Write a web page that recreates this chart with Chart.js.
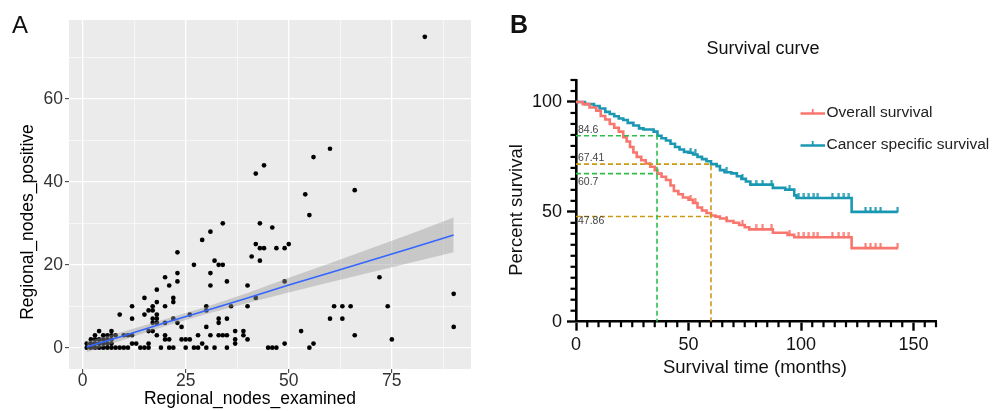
<!DOCTYPE html>
<html><head><meta charset="utf-8">
<script src="https://cdn.jsdelivr.net/npm/chart.js@4.4.1/dist/chart.umd.min.js"></script>
<style>
html,body{margin:0;padding:0;background:#fff;}
#wrap{position:relative;width:998px;height:411px;overflow:hidden;background:#fff;}
#ca{position:absolute;left:0;top:0;}
#cb{position:absolute;left:490px;top:0;}
.lab{position:absolute;font-family:'Liberation Sans',Arial,sans-serif;color:#111;line-height:1;}
</style></head><body>
<div id="wrap">
<canvas id="ca" width="490" height="411"></canvas>
<canvas id="cb" width="508" height="411"></canvas>
<div class="lab" style="left:12px;top:13px;font-size:24px;">A</div>
<div class="lab" style="left:510px;top:12px;font-size:25px;font-weight:600;">B</div>
</div>
<script>
// ---------------- Panel A data ----------------
const examined = [
  1,1,2,2,2,3,3,3,3,4,4,4,4,5,5,5,5,6,6,6,6,7,7,7,7,7,8,8,10,11,12,
  9,10,11,14,15,16,19,21,22,25,27,28,30,32,35,45,46,47,55,
  12,13,16,29,37,49,56,
  20,21,24,25,26,37,40,75,
  18,20,28,31,33,34,35,39,66,
  16,17,37,39,53,
  24,30,90,
  17,18,20,23,33,
  12,17,18,22,33,35,60,63,
  9,15,18,26,
  16,17,30,
  12,17,20,30,36,40,61,63,65,74,
  18,22,
  15,22,42,
  90,
  18,
  21,31,40,
  23,35,49,
  20,72,
  23,31,
  27,33,34,
  32,43,
  41,
  23,
  43,44,47,49,
  42,50,
  29,
  31,
  46,
  34,43,
  55,
  54,
  66,
  42,
  44,
  56,
  60,
  83
];
const positive = [
  0,1,0,1,2,0,1,2,3,0,1,2,4,0,1,2,3,0,1,2,3,0,1,2,3,4,0,3,3,3,3,
  0,0,0,0,0,0,0,0,0,0,0,0,0,0,0,0,0,0,0,
  1,1,1,1,1,1,1,
  2,2,2,2,2,2,2,2,
  3,3,3,3,3,3,3,3,3,
  4,4,4,4,4,
  5,5,5,
  6,6,6,6,6,
  7,7,7,7,7,7,7,7,
  8,8,8,8,
  9,9,9,
  10,10,10,10,10,10,10,10,10,10,
  11,11,
  12,12,12,
  13,
  14,
  15,15,15,
  16,16,16,
  17,17,
  18,18,
  20,20,20,
  21,21,
  22,
  23,
  24,24,24,24,
  25,25,
  26,
  28,
  29,
  30,30,
  32,
  37,
  38,
  42,
  44,
  46,
  48,
  75
];
const fitX     = [1,   10,  20,  30,  40,   50,   60,   70,   80,   90];
const fitY     = [0.2, 2.9, 6.0, 9.0, 12.0, 15.1, 18.1, 21.1, 24.1, 27.2];
const fitLower = [-1.1,1.9, 5.15,8.1, 10.8, 13.3, 15.8, 18.2, 20.6, 23.0];
const fitUpper = [1.5, 3.9, 6.85,9.9, 13.2, 16.9, 20.4, 24.0, 27.6, 31.4];
const xTicksA  = [0,12.5,25,37.5,50,62.5,75,87.5];
const xLabelsA = [0,25,50,75];
const yTicksA  = [0,10,20,30,40,50,60,70];
const yLabelsA = [0,20,40,60];

// ---------------- Panel B data ----------------
const osTime = [0,3,6,9,11,13,15,17,19,21,22.5,24,25.5,27,29,31,33,35,36.2,38,40,42,43.5,45.5,47.5,50,52,54,56,58,60,62,64,67,70,72.5,75,77,87.5,94,97,122.5,143];
const osSurv = [100,99,97.5,96,93.6,92,90,88.3,86.5,84,82,79.5,77,75,73.5,72,70.5,69,67.4,66,64.5,62,59.5,58,56.5,55.5,54,52,50.6,49.5,48.3,47.8,47,45.8,45,44,43,42,40.5,39.5,38.4,33.5,33.5];
const cssTime = [0,4,8,10.5,13,15,17,19,21,23,25.5,28,30,34.5,36.2,38,40,42,44,46,48,50,52,54,56,58,60,62.5,64,66,69,71.5,73.5,75.5,77.5,87.5,93,97,98,122.5,143];
const cssSurv = [100,99,98.2,97,95.5,94.5,93.5,92.5,91.8,90.5,89.3,88,87.5,86.5,84.6,83.5,82.5,81,79.5,78.4,77.3,76.9,76.1,75,74,73,71.7,70.8,69,68,67.5,66.2,65,63.8,62.4,60.9,60.1,57.5,56.3,50,50];
const censorTime = [51,53,67,74,80,83,87,95,99,101.3,103.5,105.7,107.5,113.9,116.8,119.1,121.3,128.7,130.9,133.2,135.4,143];
const osCensor   = [55.5,54,45.8,44,42,42,42,39.5,38.4,38.4,38.4,38.4,38.4,38.4,38.4,38.4,38.4,33.5,33.5,33.5,33.5,33.5];
const cssCensor  = [76.9,76.1,68,65,62.4,62.4,62.4,60.1,56.3,56.3,56.3,56.3,56.3,56.3,56.3,56.3,56.3,50,50,50,50,50];
const milestoneMonths = [36, 60];
const cssAtMilestone  = [84.6, 71.7];
const osAtMilestone   = [67.41, 47.86];
const annotText  = ['84.6','67.41','60.7','47.86'];
const annotValue = [84.6, 71.7, 67.41, 47.86];
const xTicksB = [0,50,100,150];
const yTicksB = [0,50,100];
const seriesNames = ['Overall survival','Cancer specific survival'];

// ---------------- common ----------------
const FAM = "'Liberation Sans', Arial, Helvetica, sans-serif";
Chart.defaults.font.family = FAM;
Chart.defaults.animation = false;

function pts(xs, ys){ return xs.map((x,i)=>({x:x, y:ys[i]})); }

// ---------------- Chart A ----------------
const bgA = {
  id:'bgA',
  beforeDraw(chart){
    const {ctx, chartArea:a} = chart;
    ctx.save(); ctx.fillStyle = '#EBEBEB';
    ctx.fillRect(a.left, a.top, a.right-a.left, a.bottom-a.top);
    ctx.restore();
  },
  afterDraw(chart){
    const ctx = chart.ctx;
    ctx.save();
    ctx.fillStyle = '#000';
    ctx.font = '17.5px ' + FAM;
    ctx.textAlign = 'center'; ctx.textBaseline = 'middle';
    ctx.fillText('Regional_nodes_examined', 250, 399);
    ctx.translate(28, 222); ctx.rotate(-Math.PI/2);
    ctx.fillText('Regional_nodes_positive', 0, 0);
    ctx.restore();
  }
};
const isMajX = v => xLabelsA.includes(v);
const isMajY = v => yLabelsA.includes(v);
new Chart(document.getElementById('ca'), {
  type:'scatter',
  data:{datasets:[
    {data: pts(examined, positive), pointRadius:2.35, pointBackgroundColor:'#000', pointBorderWidth:0, order:4},
    {data: pts(fitX, fitLower), showLine:true, borderWidth:0, pointRadius:0, fill:false, order:3},
    {data: pts(fitX, fitUpper), showLine:true, borderWidth:0, pointRadius:0, fill:'-1', backgroundColor:'rgba(153,153,153,0.42)', order:2},
    {data: pts(fitX, fitY), showLine:true, borderColor:'#3366FF', borderWidth:1.6, pointRadius:0, fill:false, order:1}
  ]},
  options:{
    responsive:false, animation:false, devicePixelRatio:1,
    layout:{padding:{top:20,right:19,left:0,bottom:0}},
    plugins:{legend:{display:false}, tooltip:{enabled:false}},
    scales:{
      x:{type:'linear', min:-3.3, max:94.2,
         afterBuildTicks:s=>{ s.ticks = xTicksA.map(v=>({value:v})); },
         afterFit:s=>{ s.height = 42; },
         ticks:{autoSkip:false, maxRotation:0, padding:-2, color:'#333', font:{size:17.5},
                callback:v=> isMajX(v) ? String(v) : ''},
         grid:{color:'#FFFFFF', lineWidth:c=> (c.tick && isMajX(c.tick.value)) ? 1.3 : 0.6,
               drawTicks:true, tickLength:4, tickWidth:1,
               tickColor:c=> (c.tick && isMajX(c.tick.value)) ? '#333' : 'rgba(0,0,0,0)'},
         border:{display:false}},
      y:{type:'linear', min:-5.14, max:79.06,
         afterBuildTicks:s=>{ s.ticks = yTicksA.map(v=>({value:v})); },
         afterFit:s=>{ s.width = 69; },
         ticks:{autoSkip:false, padding:2, color:'#333', font:{size:17.5},
                callback:v=> isMajY(v) ? String(v) : ''},
         grid:{color:'#FFFFFF', lineWidth:c=> (c.tick && isMajY(c.tick.value)) ? 1.3 : 0.6,
               drawTicks:true, tickLength:4, tickWidth:1,
               tickColor:c=> (c.tick && isMajY(c.tick.value)) ? '#333' : 'rgba(0,0,0,0)'},
         border:{display:false}}
    }
  },
  plugins:[bgA]
});

// ---------------- Chart B ----------------
const OS_COL = '#F8766D', CSS_COL = '#1A97B2', GREEN = '#2DBE4C', ORANGE = '#CC9A12';
function tickImg(color){
  const c = document.createElement('canvas'); c.width = 3; c.height = 10;
  const g = c.getContext('2d'); g.fillStyle = color; g.fillRect(0.5,0,2,5.5);
  return c;
}
const dashStyle = (col)=>({showLine:true, borderColor:col, borderWidth:1.6, borderDash:[5,3], pointRadius:0, fill:false, order:0});
const decoB = {
  id:'decoB',
  afterDraw(chart){
    const {ctx, chartArea:a, scales:{x,y}} = chart;
    ctx.save();
    // minor ticks
    ctx.strokeStyle = '#000'; ctx.lineWidth = 2.2;
    for (let v = 5; v <= 160; v += 5){
      if (xTicksB.includes(v)) continue;
      const px = x.getPixelForValue(v);
      ctx.beginPath(); ctx.moveTo(px, a.bottom); ctx.lineTo(px, a.bottom + 5.5); ctx.stroke();
    }
    for (let v = 5; v <= 110; v += 5){
      if (yTicksB.includes(v)) continue;
      const py = y.getPixelForValue(v);
      ctx.beginPath(); ctx.moveTo(a.left, py); ctx.lineTo(a.left - 5.5, py); ctx.stroke();
    }
    // annotation labels
    const offs = [-5.5, -6.5, 8.5, 4.5];
    ctx.fillStyle = '#444'; ctx.font = '10.5px ' + FAM;
    ctx.textAlign = 'left'; ctx.textBaseline = 'middle';
    annotText.forEach((t,i)=>{
      ctx.fillText(t, a.left + 2, y.getPixelForValue(annotValue[i]) + offs[i]);
    });
    // legend
    const cols = [OS_COL, CSS_COL], ly = [113.5, 145.5];
    ctx.font = '15.5px ' + FAM; ctx.fillStyle = '#222';
    seriesNames.forEach((n,i)=>{
      ctx.strokeStyle = cols[i]; ctx.lineWidth = 2.5;
      ctx.beginPath(); ctx.moveTo(310.5, ly[i]); ctx.lineTo(335, ly[i]); ctx.stroke();
      ctx.lineWidth = 1.8;
      ctx.beginPath(); ctx.moveTo(322.7, ly[i]); ctx.lineTo(322.7, ly[i]-4.5); ctx.stroke();
      ctx.fillText(n, 336.5, ly[i] - 0.5);
    });
    // titles
    ctx.fillStyle = '#111'; ctx.textAlign = 'center';
    ctx.font = '18px ' + FAM;
    ctx.fillText('Survival curve', 273, 49);
    ctx.font = '18.5px ' + FAM;
    ctx.fillText('Survival time (months)', 265, 368);
    ctx.translate(27, 210); ctx.rotate(-Math.PI/2);
    ctx.fillText('Percent survival', 0, 0);
    ctx.restore();
  }
};
new Chart(document.getElementById('cb'), {
  type:'scatter',
  data:{datasets:[
    {data: pts(osTime, osSurv), showLine:true, stepped:true, borderColor:OS_COL, borderWidth:2.6, pointRadius:0, fill:false, order:2},
    {data: pts(cssTime, cssSurv), showLine:true, stepped:true, borderColor:CSS_COL, borderWidth:2.6, pointRadius:0, fill:false, order:2},
    {data: pts(censorTime, osCensor), pointStyle: tickImg(OS_COL), pointRadius:5, order:1},
    {data: pts(censorTime, cssCensor), pointStyle: tickImg(CSS_COL), pointRadius:5, order:1},
    Object.assign({data:[{x:0,y:cssAtMilestone[0]},{x:milestoneMonths[0],y:cssAtMilestone[0]},{x:milestoneMonths[0],y:0}]}, dashStyle(GREEN)),
    Object.assign({data:[{x:0,y:osAtMilestone[0]},{x:milestoneMonths[0],y:osAtMilestone[0]}]}, dashStyle(GREEN)),
    Object.assign({data:[{x:0,y:cssAtMilestone[1]},{x:milestoneMonths[1],y:cssAtMilestone[1]},{x:milestoneMonths[1],y:0}]}, dashStyle(ORANGE)),
    Object.assign({data:[{x:0,y:osAtMilestone[1]},{x:milestoneMonths[1],y:osAtMilestone[1]}]}, dashStyle(ORANGE))
  ]},
  options:{
    responsive:false, animation:false, devicePixelRatio:1,
    layout:{padding:{top:80,right:62,left:0,bottom:0}},
    plugins:{legend:{display:false}, tooltip:{enabled:false}},
    scales:{
      x:{type:'linear', min:0, max:160,
         afterBuildTicks:s=>{ s.ticks = xTicksB.map(v=>({value:v})); },
         afterFit:s=>{ s.height = 89.3; },
         ticks:{autoSkip:false, maxRotation:0, padding:3.5, color:'#111', font:{size:18}},
         grid:{drawOnChartArea:false, drawTicks:true, tickLength:9, tickWidth:2.4, tickColor:'#000'},
         border:{display:true, width:2.6, color:'#000'}},
      y:{type:'linear', min:0, max:110,
         afterBuildTicks:s=>{ s.ticks = yTicksB.map(v=>({value:v})); },
         afterFit:s=>{ s.width = 86; },
         ticks:{autoSkip:false, padding:5, color:'#111', font:{size:18}},
         grid:{drawOnChartArea:false, drawTicks:true, tickLength:9, tickWidth:2.4, tickColor:'#000'},
         border:{display:true, width:2.6, color:'#000'}}
    }
  },
  plugins:[decoB]
});
</script>
</body></html>
